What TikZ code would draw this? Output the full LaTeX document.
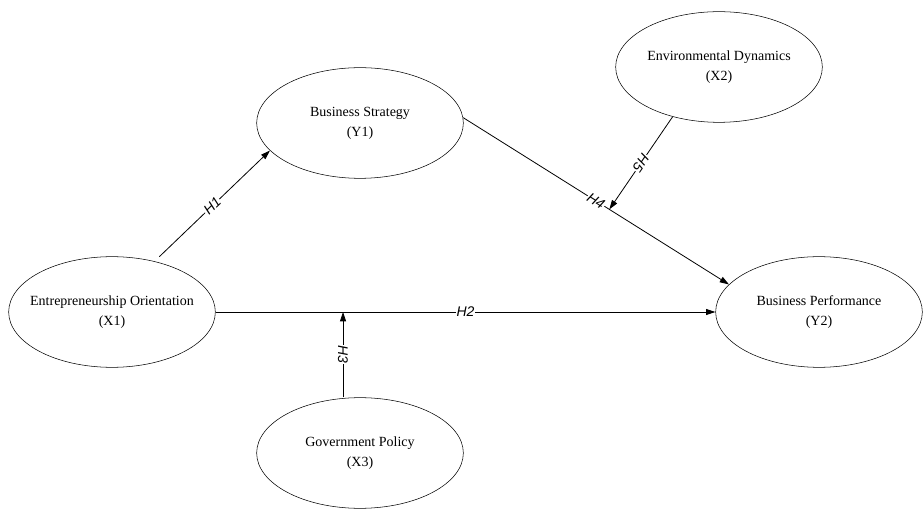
\documentclass[tikz,border=0pt]{standalone}
\usepackage{fontspec}
\setmainfont{Liberation Serif}
\newfontfamily\hypfont{Liberation Sans}
\usetikzlibrary{positioning}
\usetikzlibrary{shapes.geometric}
\usetikzlibrary{arrows.meta}

\begin{document}
\begin{tikzpicture}[x=0.75pt,y=-0.75pt,
  var/.style={draw,ellipse,minimum width=155pt,minimum height=83pt,inner ysep=0pt,inner xsep=-8pt,align=center,font=\fontsize{10.5}{15}\selectfont},
  hyp/.style={fill=white,inner sep=0.6pt,font=\hypfont\itshape\fontsize{10.5}{12}\selectfont},
  link/.style={line width=0.6pt,-{Triangle[length=7pt,width=4.5pt]}}]
 \useasboundingbox (0,0) rectangle (924,509);
 % variables
 \node[var] (X1) at (112,312) {Entrepreneurship Orientation\\(X1)};
 \node[var] (Y1) at (360,123) {Business Strategy\\(Y1)};
 \node[var] (X2) at (719,67) {Environmental Dynamics\\(X2)};
 \node[var] (Y2) at (819,312) {Business Performance\\(Y2)};
 \node[var] (X3) at (360,453) {Government Policy\\(X3)};
 % hypotheses
 \draw[link,shorten <=5pt] (X1.50) -- node[hyp,sloped]{H1} (Y1.197);
 \draw[link] (X1.east) -- node[hyp]{H2} coordinate[pos=0.255] (m2) (Y2.west);
 \draw[link] (X3.north -| m2) -- node[hyp,rotate=-90]{H3} (m2);
 \draw[link] (Y1.3) -- node[hyp,sloped]{H4} coordinate[pos=0.55] (m4) (Y2.163);
 \draw[link] (X2.227) -- node[hyp,sloped,allow upside down]{H5} (m4);
\end{tikzpicture}
\end{document}
